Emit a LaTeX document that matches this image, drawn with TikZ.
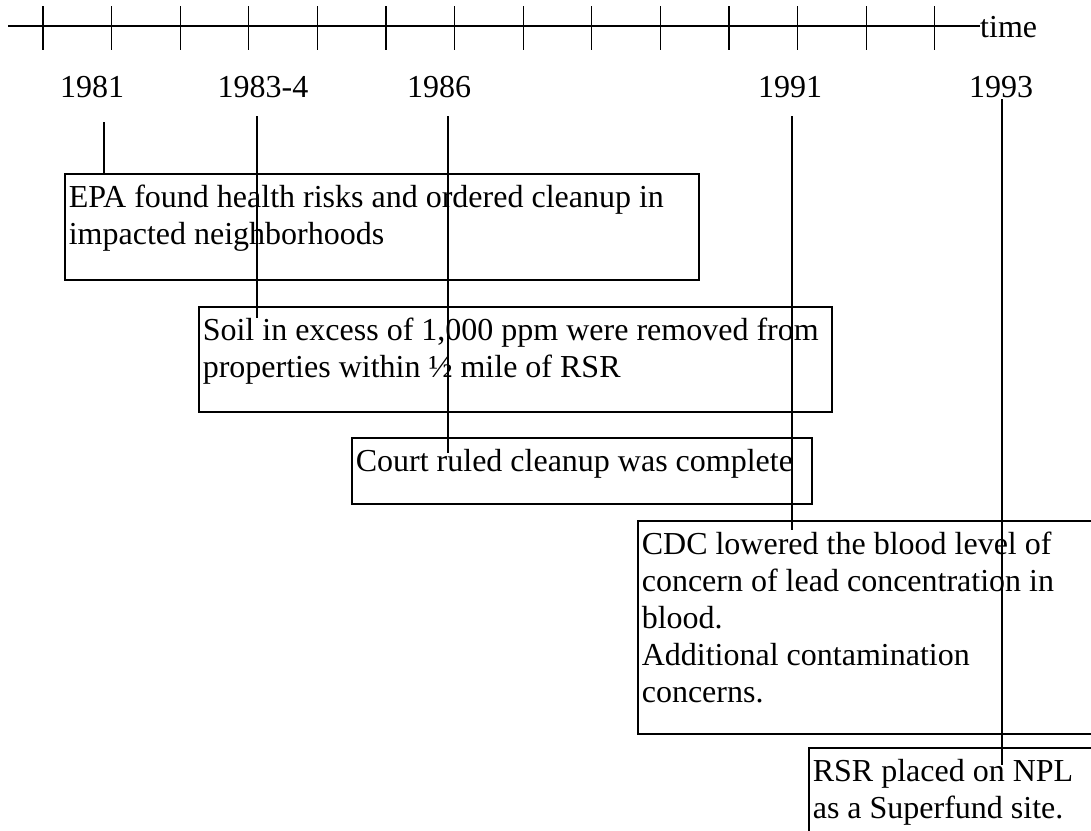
\documentclass[tikz,border=0pt]{standalone}
\usepackage{fontspec}
\setmainfont{Liberation Serif}
\usetikzlibrary{calc}
\newcommand{\evfont}{\fontsize{32}{36.8}\selectfont}
\newcommand{\evtext}[3]{\parbox[t][#2][t]{#1}{\raggedright\rule{0pt}{34pt}#3}}
\tikzset{
  axis/.style ={line width=1.6pt},
  tk/.style   ={line width=1.3pt},
  yr/.style   ={anchor=base,font=\evfont},
  evbox/.style={draw,line width=1.6pt,anchor=north west,
                inner xsep=4pt,inner ysep=0pt,font=\evfont},
  tie/.style  ={line width=1.6pt},
}

\begin{document}
\begin{tikzpicture}[x=1pt,y=-1pt]
\useasboundingbox (0,0) rectangle (1091,830);
\clip (0,0) rectangle (1091,830);
% time axis
\node[anchor=base west,inner sep=0pt,font=\evfont] (time) at (980,37) {time};
\coordinate (a0) at (8,26);
\draw[axis] (a0) -- (a0 -| time.west);
\foreach \k in {0,...,13}
  \draw[tk] (43+68.6*\k,6) -- (43+68.6*\k,50);
% years
\node[yr] (y81) at (92,97) {1981};
\node[yr] (y83) at (263,97) {1983-4};
\node[yr] (y86) at (439,97) {1986};
\node[yr] (y91) at (790,97) {1991};
\node[yr] (y93) at (1001,97) {1993};
\coordinate (t81) at (104,122);
\coordinate (t83) at (257,116);
\coordinate (t86) at (448,116);
\coordinate (t91) at (792,116);
\coordinate (t93) at (1002,99);
% events
\node[evbox] (epa) at (64,173) {\evtext{626pt}{106pt}{EPA found health risks and ordered cleanup in\\impacted neighborhoods}};
\node[evbox] (soil) at (198,306) {\evtext{625pt}{105pt}{Soil in excess of 1,000 ppm were removed from\\properties within ½ mile of RSR}};
\node[evbox] (court) at (351,437) {\evtext{452pt}{66pt}{Court ruled cleanup was complete}};
\node[evbox] (cdc) at (637,520) {\evtext{500pt}{213pt}{CDC lowered the blood level of\\concern of lead concentration in\\blood.\\Additional contamination\\concerns.}};
\node[evbox] (rsr) at (808,747) {\evtext{330pt}{120pt}{RSR placed on NPL\\as a Superfund site.}};
% ties from years to events
\draw[tie] (t81) -- (t81 |- epa.north);
\draw[tie] (t83) -- ($(t83 |- soil.north)+(0,12)$);
\draw[tie] (t86) -- ($(t86 |- court.north)+(0,16)$);
\draw[tie] (t91) -- ($(t91 |- cdc.north)+(0,10)$);
\draw[tie] (t93) -- ($(t93 |- rsr.north)+(0,18)$);
\end{tikzpicture}
\end{document}
